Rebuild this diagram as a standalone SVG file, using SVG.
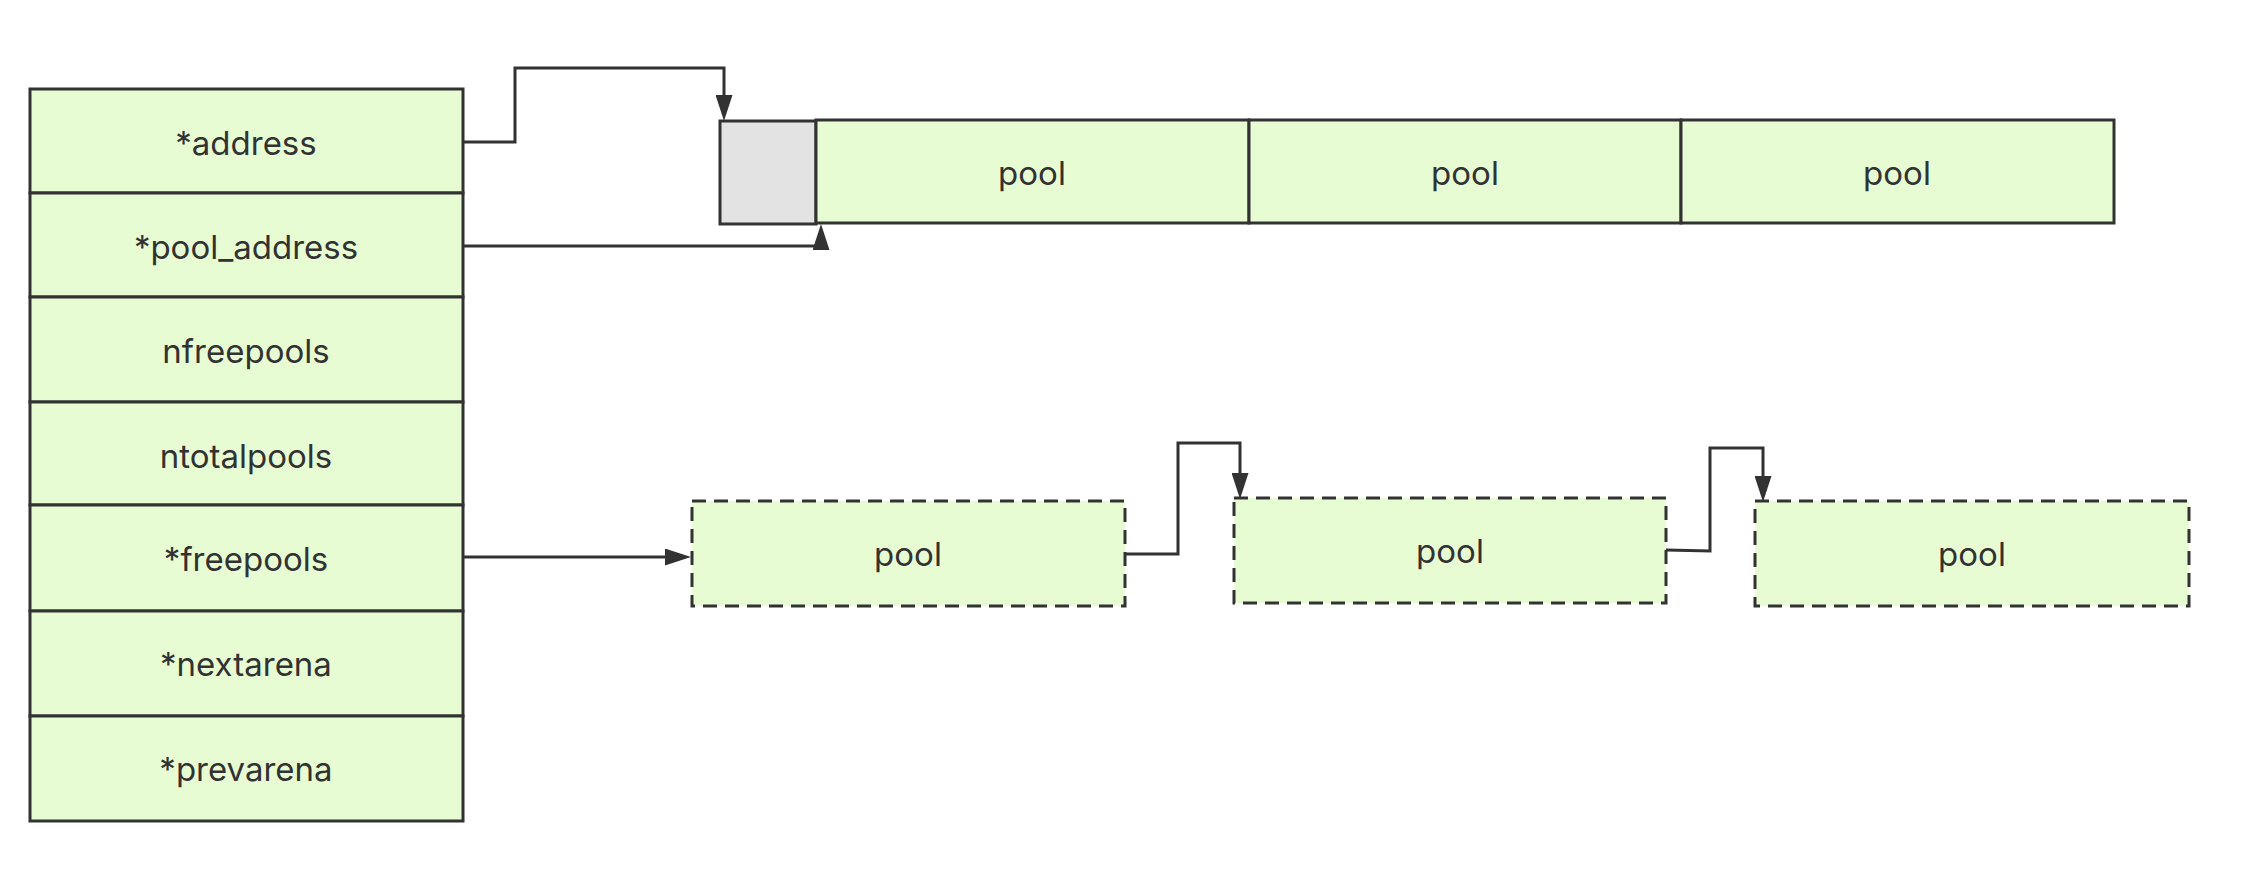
<svg xmlns="http://www.w3.org/2000/svg" width="2258" height="880" viewBox="0 0 2258 880">
<style>
.box{fill:#e8fcd3;stroke:#323232;stroke-width:3}
.gray{fill:#e3e3e3;stroke:#323232;stroke-width:3}
.dash{fill:#e8fcd3;stroke:#323232;stroke-width:3;stroke-dasharray:14 8}
.lbl{font-family:Inter,"Liberation Sans",sans-serif;font-size:33px;fill:#323232;text-anchor:middle}
.conn{fill:none;stroke:#323232;stroke-width:3}
</style>
<defs>
<marker id="arr" markerUnits="userSpaceOnUse" markerWidth="26" markerHeight="17" refX="15" refY="8.5" orient="auto" viewBox="0 0 26 17">
<path d="M0,0 L26,8.5 L0,17 z" fill="#323232"/>
</marker>
</defs>
<rect width="2258" height="880" fill="#ffffff"/>
<g id="arena">
<g id="row-address"><rect class="box" x="30" y="89" width="433" height="104"/><text class="lbl" x="246" y="155">*address</text></g>
<g id="row-pool_address"><rect class="box" x="30" y="193" width="433" height="104"/><text class="lbl" x="246" y="259">*pool_address</text></g>
<g id="row-nfreepools"><rect class="box" x="30" y="297" width="433" height="105"/><text class="lbl" x="246" y="363">nfreepools</text></g>
<g id="row-ntotalpools"><rect class="box" x="30" y="402" width="433" height="103"/><text class="lbl" x="246" y="468">ntotalpools</text></g>
<g id="row-freepools"><rect class="box" x="30" y="505" width="433" height="106"/><text class="lbl" x="246" y="571">*freepools</text></g>
<g id="row-nextarena"><rect class="box" x="30" y="611" width="433" height="105"/><text class="lbl" x="246" y="676">*nextarena</text></g>
<g id="row-prevarena"><rect class="box" x="30" y="716" width="433" height="105"/><text class="lbl" x="246" y="781">*prevarena</text></g>
</g>
<g id="header"><rect class="gray" x="720" y="121" width="96" height="103"/></g>
<g id="pool-1"><rect class="box" x="816" y="120" width="433" height="103"/><text class="lbl" x="1032" y="185">pool</text></g>
<g id="pool-2"><rect class="box" x="1249" y="120" width="432" height="103"/><text class="lbl" x="1465" y="185">pool</text></g>
<g id="pool-3"><rect class="box" x="1681" y="120" width="433" height="103"/><text class="lbl" x="1897" y="185">pool</text></g>
<g id="free-1"><rect class="dash" x="692" y="501" width="433" height="105"/><text class="lbl" x="908" y="566">pool</text></g>
<g id="free-2"><rect class="dash" x="1234" y="498" width="432" height="105"/><text class="lbl" x="1450" y="563">pool</text></g>
<g id="free-3"><rect class="dash" x="1755" y="501" width="434" height="105"/><text class="lbl" x="1972" y="566">pool</text></g>
<g id="connectors">
<path class="conn" d="M463,142 H515 V68 H724 V110" marker-end="url(#arr)"/>
<path class="conn" d="M463,246 H821 V235" marker-end="url(#arr)"/>
<path class="conn" d="M463,557 H680" marker-end="url(#arr)"/>
<path class="conn" d="M1125,554 H1178 V443 H1240 V488" marker-end="url(#arr)"/>
<path class="conn" d="M1666,550 L1710,551 V448 H1763 V491" marker-end="url(#arr)"/>
</g>
</svg>
